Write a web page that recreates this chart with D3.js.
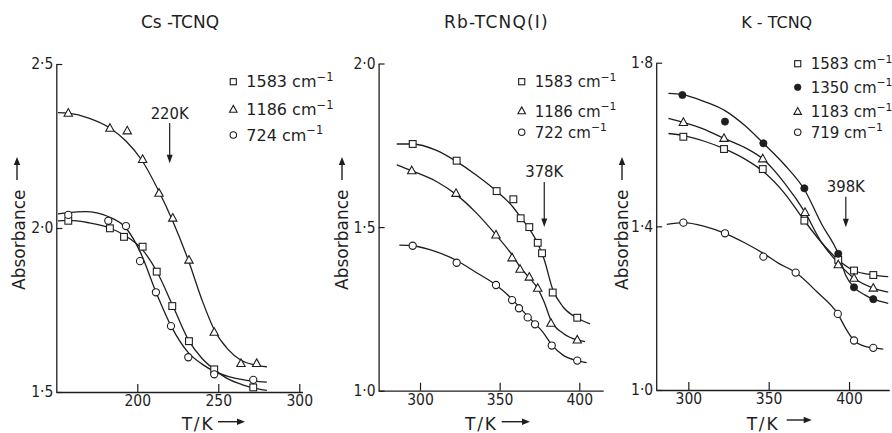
<!DOCTYPE html>
<html>
<head>
<meta charset="utf-8">
<script src="https://cdn.jsdelivr.net/npm/d3@7"></script>
<style>
  html, body { margin: 0; padding: 0; background: #fff; }
  svg { display: block; }
  text { fill: #1e1e1e; }
  .reg { font-family: "DejaVu Sans", sans-serif; }
  .cond { font-family: "DejaVu Sans Condensed", "DejaVu Sans", sans-serif; }
</style>
</head>
<body>
<svg id="chart" width="892" height="433"></svg>
<script>
// ---------- Cs-TCNQ : measured absorbance [T (K), A] ----------
const cs1583 = [[157.4,2.022],[183.1,1.999],[191.8,1.973],[203.3,1.943],[212.0,1.867],[221.6,1.762],[231.9,1.655],[247.5,1.569],[271.6,1.514]];
const cs1186 = [[157.4,2.350],[183.1,2.304],[193.8,2.296],[203.3,2.209],[213.4,2.106],[221.9,2.030],[231.9,1.902],[247.5,1.682],[264.0,1.587],[273.7,1.587]];
const cs724  = [[157.4,2.040],[182.1,2.022],[193.0,2.006],[201.7,1.899],[211.5,1.804],[220.8,1.701],[231.5,1.606],[247.5,1.554],[271.6,1.537]];
// smooth guide curves drawn through each Cs series
const cs1583Fit = [[151,2.022],[157.4,2.023],[170,2.016],[183,2.0],[192,1.978],[203,1.935],[212,1.868],[222,1.762],[232,1.655],[240,1.602],[247.5,1.569],[256,1.540],[265,1.522],[272,1.512],[280,1.505]];
const cs1186Fit = [[151,2.352],[157.4,2.350],[170,2.335],[183,2.305],[193,2.265],[203,2.205],[213,2.115],[222,2.020],[232,1.895],[240,1.780],[247.5,1.690],[256,1.630],[264,1.597],[272,1.583],[280,1.577]];
const cs724Fit  = [[151,2.043],[157.4,2.047],[168,2.050],[182,2.035],[193,2.000],[202,1.925],[211.5,1.805],[221,1.700],[231.5,1.620],[240,1.585],[247.5,1.563],[256,1.548],[265,1.538],[272,1.533],[280,1.530]];

// ---------- Rb-TCNQ(I) ----------
const rb1583 = [[295.4,1.754],[323.0,1.703],[348.1,1.610],[358.6,1.585],[363.2,1.527],[368.6,1.500],[373.9,1.452],[376.6,1.420],[383.3,1.300],[398.7,1.223]];
const rb1186 = [[294.8,1.672],[322.6,1.603],[347.7,1.476],[357.8,1.406],[362.8,1.371],[368.6,1.347],[373.9,1.313],[382.2,1.206],[398.7,1.155]];
const rb722  = [[295.4,1.443],[323.0,1.391],[347.7,1.323],[357.8,1.277],[362.1,1.252],[367.6,1.224],[372.2,1.203],[382.7,1.138],[398.7,1.092]];
const rb1583Fit = [[285.4,1.754],[295.4,1.754],[310,1.735],[323,1.700],[335,1.660],[348,1.610],[358.6,1.560],[363.2,1.530],[368.6,1.495],[373.9,1.450],[378,1.400],[383.3,1.310],[390,1.255],[398.7,1.222],[406.7,1.204]];
const rb1186Fit = [[285.4,1.690],[294.8,1.672],[310,1.640],[322.6,1.600],[335,1.545],[347.7,1.476],[357.8,1.415],[362.8,1.378],[368.6,1.345],[373.9,1.312],[378,1.270],[382.2,1.215],[390,1.175],[398.7,1.155],[403.6,1.150]];
const rb722Fit  = [[287,1.445],[295.4,1.443],[310,1.425],[323,1.398],[335,1.362],[347.7,1.323],[357.8,1.280],[362.1,1.257],[367.6,1.228],[372.2,1.205],[377,1.180],[382.7,1.140],[390,1.108],[398.7,1.092],[404.6,1.086]];

// ---------- K-TCNQ ----------
const k1583 = [[296.9,1.619],[322.2,1.589],[346.3,1.540],[372.2,1.414],[393.3,1.318],[403.1,1.292],[415.1,1.281]];
const k1350 = [[296.3,1.721],[322.8,1.656],[346.7,1.603],[372.2,1.493],[393.3,1.333],[403.1,1.251],[415.1,1.222]];
const k1183 = [[296.9,1.654],[322.2,1.615],[346.3,1.565],[372.6,1.434],[393.3,1.306],[403.1,1.273],[415.1,1.249]];
const k719  = [[296.9,1.409],[322.8,1.383],[346.7,1.326],[366.8,1.287],[393.0,1.186],[403.1,1.121],[415.1,1.103]];
const k1583Fit = [[287.6,1.627],[296.9,1.622],[310,1.608],[322.2,1.590],[335,1.565],[346.3,1.535],[360,1.480],[372.2,1.414],[383,1.360],[393.3,1.318],[403.1,1.292],[415.1,1.281],[424.4,1.277]];
const k1350Fit = [[287.6,1.725],[296.3,1.722],[310,1.705],[322.8,1.683],[335,1.647],[346.7,1.603],[360,1.550],[372.2,1.490],[383,1.405],[393.3,1.333],[398,1.280],[403.1,1.251],[410,1.232],[415.1,1.222],[424.4,1.212]];
const k1183Fit = [[287.6,1.664],[296.9,1.654],[310,1.637],[322.2,1.615],[335,1.593],[346.3,1.565],[360,1.505],[372.6,1.434],[383,1.360],[393.3,1.310],[403.1,1.273],[415.1,1.249],[424.4,1.239]];
const k719Fit  = [[286.6,1.405],[296.9,1.409],[310,1.400],[322.8,1.383],[335,1.360],[346.7,1.334],[356,1.310],[366.8,1.287],[380,1.240],[393,1.186],[398,1.150],[403.1,1.121],[409,1.108],[415.1,1.103],[421.3,1.100]];

// ---------- titles, ticks, legends ----------
const titles = ["Cs -TCNQ", "Rb-TCNQ(I)", "K - TCNQ"];
const xTicks = [[200, 250, 300], [300, 350, 400], [300, 350, 400]];
const yTicks = [[1.5, 2.0, 2.5], [1.0, 1.5, 2.0], [1.0, 1.4, 1.8]];
const xDomains = [[150, 302], [274, 415], [280, 425]];
const yDomains = [[1.5, 2.5], [1.0, 2.0], [1.0, 1.8]];
const wavenumbers = [["1583", "1186", "724"], ["1583", "1186", "722"], ["1583", "1350", "1183", "719 "]];
const transitionT = [220, 378, 398];

// ---------- layout ----------
const layout = [
  { xr: [56.3, 302.5],  yr: [392, 64],     titleX: 180,   titleFs: 17, titleLs: 0,
    legX: 233.3, legFs: 16, legRows: [81.7, 109.5, 135],
    annY: [119.3, 123, 163.3], yLabX: 25,  yArrX: 17,  xLabX: 181.7, xArr: [218, 245, 421.7] },
  { xr: [378.6, 603.2], yr: [390.7, 63.5], titleX: 496.5, titleFs: 17, titleLs: 1.2,
    legX: 521.7, legFs: 15, legRows: [81.7, 111, 132.3],
    annY: [176.7, 182, 227],   yLabX: 348, yArrX: 342, xLabX: 465,   xArr: [501.7, 530, 421.7] },
  { xr: [656.2, 889.2], yr: [390, 62.7],   titleX: 776.7, titleFs: 16, titleLs: 0,
    legX: 797.7, legFs: 15, legRows: [63.7, 87.3, 111.7, 132.3],
    annY: [191.7, 196.7, 227.3], yLabX: 628, yArrX: 622, xLabX: 746.7, xArr: [786.7, 811.7, 420] }
];

const panelSeries = [
  [ { pts: cs1583, fit: cs1583Fit, sym: "square" },
    { pts: cs1186, fit: cs1186Fit, sym: "triangle" },
    { pts: cs724,  fit: cs724Fit,  sym: "circle" } ],
  [ { pts: rb1583, fit: rb1583Fit, sym: "square" },
    { pts: rb1186, fit: rb1186Fit, sym: "triangle" },
    { pts: rb722,  fit: rb722Fit,  sym: "circle" } ],
  [ { pts: k1583, fit: k1583Fit, sym: "square" },
    { pts: k1350, fit: k1350Fit, sym: "dot" },
    { pts: k1183, fit: k1183Fit, sym: "triangle" },
    { pts: k719,  fit: k719Fit,  sym: "circle" } ]
];

const INK = "#1e1e1e";
const svg = d3.select("#chart");

function marker(g, sym, x, y, s) {
  const k = s || 1;
  if (sym === "square") {
    g.append("rect").attr("x", x - 3.4 * k).attr("y", y - 3.4 * k)
      .attr("width", 6.8 * k).attr("height", 6.8 * k)
      .attr("fill", "#fff").attr("stroke", INK).attr("stroke-width", 1.1);
  } else if (sym === "triangle") {
    g.append("path")
      .attr("d", `M${x},${y - 4.6 * k}L${x + 4.2 * k},${y + 3 * k}L${x - 4.2 * k},${y + 3 * k}Z`)
      .attr("fill", "#fff").attr("stroke", INK).attr("stroke-width", 1.1);
  } else if (sym === "circle") {
    g.append("circle").attr("cx", x).attr("cy", y).attr("r", 3.6 * k)
      .attr("fill", "#fff").attr("stroke", INK).attr("stroke-width", 1.1);
  } else {
    g.append("circle").attr("cx", x).attr("cy", y).attr("r", 3.6 * k)
      .attr("fill", INK).attr("stroke", INK).attr("stroke-width", 0.8);
  }
}

function arrowDown(g, x, y0, y1) {
  g.append("line").attr("x1", x).attr("x2", x).attr("y1", y0).attr("y2", y1 - 6)
    .attr("stroke", INK).attr("stroke-width", 1.2);
  g.append("path").attr("d", `M${x - 3},${y1 - 8.5}L${x + 3},${y1 - 8.5}L${x},${y1}Z`).attr("fill", INK);
}
function arrowUp(g, x, y0, y1) {
  g.append("line").attr("x1", x).attr("x2", x).attr("y1", y0).attr("y2", y1 + 6)
    .attr("stroke", INK).attr("stroke-width", 1.4);
  g.append("path").attr("d", `M${x - 3.2},${y1 + 8}L${x + 3.2},${y1 + 8}L${x},${y1}Z`).attr("fill", INK);
}
function arrowRight(g, x0, x1, y) {
  g.append("line").attr("x1", x0).attr("x2", x1 - 6).attr("y1", y).attr("y2", y)
    .attr("stroke", INK).attr("stroke-width", 1.4);
  g.append("path").attr("d", `M${x1 - 8},${y - 3.2}L${x1 - 8},${y + 3.2}L${x1},${y}Z`).attr("fill", INK);
}

const fmtY = d => d3.format(".1f")(d).replace(".", "\u00B7");

layout.forEach((L, i) => {
  const g = svg.append("g");
  const x = d3.scaleLinear().domain(xDomains[i]).range(L.xr);
  const y = d3.scaleLinear().domain(yDomains[i]).range(L.yr);

  // axes with inward ticks
  const gx = g.append("g").attr("transform", `translate(0,${L.yr[0]})`)
    .call(d3.axisBottom(x).tickValues(xTicks[i]).tickFormat(d3.format("d"))
      .tickSizeInner(-8).tickSizeOuter(0).tickPadding(3));
  const gy = g.append("g").attr("transform", `translate(${L.xr[0]},0)`)
    .call(d3.axisLeft(y).tickValues(yTicks[i]).tickFormat(fmtY)
      .tickSizeInner(-6).tickSizeOuter(0).tickPadding(3));
  [gx, gy].forEach(a => {
    a.attr("font-family", null);
    a.select(".domain").attr("stroke", INK).attr("stroke-width", 1.3);
    a.selectAll(".tick line").attr("stroke", INK).attr("stroke-width", 1.2);
    a.selectAll(".tick text").attr("class", "cond").attr("font-size", 15.5).attr("fill", INK);
  });

  // curves and markers
  const line = d3.line().x(d => x(d[0])).y(d => y(d[1])).curve(d3.curveMonotoneX);
  panelSeries[i].forEach(s => {
    g.append("path").attr("d", line(s.fit)).attr("fill", "none")
      .attr("stroke", INK).attr("stroke-width", 1.3);
  });
  panelSeries[i].forEach(s => {
    s.pts.forEach(p => marker(g, s.sym, x(p[0]), y(p[1])));
  });

  // title
  g.append("text").attr("class", "reg").attr("x", L.titleX).attr("y", 28)
    .attr("text-anchor", "middle").attr("font-size", L.titleFs)
    .attr("letter-spacing", L.titleLs).text(titles[i]);

  // legend
  panelSeries[i].forEach((s, j) => {
    const ry = L.legRows[j];
    marker(g, s.sym, L.legX, ry, 0.9);
    const t = g.append("text").attr("class", "reg").attr("x", L.legX + 13)
      .attr("y", ry + 5.6).attr("font-size", L.legFs);
    t.append("tspan").text(wavenumbers[i][j] + " cm");
    t.append("tspan").attr("dy", -6.5).attr("font-size", L.legFs * 0.72).text("\u22121");
  });

  // transition annotation
  const tx = x(transitionT[i]);
  g.append("text").attr("class", "cond").attr("x", tx).attr("y", L.annY[0])
    .attr("text-anchor", "middle").attr("font-size", 16.5).text(transitionT[i] + "K");
  arrowDown(g, tx, L.annY[1], L.annY[2]);

  // axis titles
  g.append("text").attr("class", "reg").attr("transform", `translate(${L.yLabX},290) rotate(-90)`)
    .attr("font-size", 17).text("Absorbance");
  arrowUp(g, L.yArrX, 180, 157);
  g.append("text").attr("class", "reg").attr("x", L.xLabX).attr("y", 430).attr("font-size", 17)
    .attr("letter-spacing", 1.8).text("T/K");
  arrowRight(g, L.xArr[0], L.xArr[1], L.xArr[2]);
});
</script>
</body>
</html>
